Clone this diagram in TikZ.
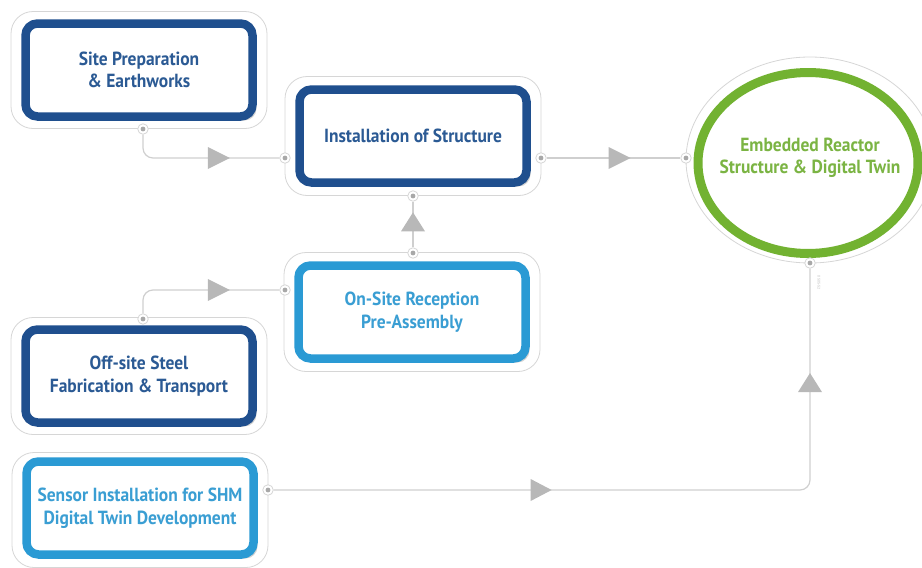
\documentclass[tikz,border=0pt]{standalone}
\usepackage{fontspec}
\newfontfamily\lbl{PT Sans}[FakeStretch=0.92]
\usetikzlibrary{arrows.meta,decorations.markings,shapes.geometric,shadows}
\definecolor{dblue}{HTML}{1F4F8E}
\definecolor{dbluetxt}{HTML}{2B5A94}
\definecolor{lblue}{HTML}{2A9AD4}
\definecolor{lbluetxt}{HTML}{3A9ED3}
\definecolor{grn}{HTML}{72B231}
\definecolor{grntxt}{HTML}{7BB443}
\definecolor{framec}{HTML}{D6D6D6}
\definecolor{wirec}{HTML}{CFCFCF}
\definecolor{tric}{HTML}{B8B8B8}
\definecolor{dotc}{HTML}{A8A8A8}
\tikzset{
  labelfont/.style={font=\lbl\bfseries\fontsize{19}{22.5}\selectfont},
  outerbox/.style={draw=framec, line width=0.8pt, rounded corners=22pt, fill=white,
    minimum width=256pt, minimum height=117pt, inner sep=0pt},
  innerbox/.style={line width=8.5pt, rounded corners=12pt, fill=white,
    minimum width=227pt, minimum height=93pt, align=center, inner sep=0pt, labelfont,
    drop shadow={shadow xshift=4pt, shadow yshift=-4pt, opacity=0.18, fill=black}},
  darkbox/.style={innerbox, draw=dblue, text=dbluetxt},
  lightbox/.style={innerbox, draw=lblue, text=lbluetxt},
  portdot/.style={circle, draw=framec, fill=white, line width=0.8pt, minimum size=10.5pt, inner sep=0pt,
    path picture={\fill[dotc] (path picture bounding box.center) circle (2.4pt);}},
  wire/.style={draw=wirec, line width=1.2pt, rounded corners=10pt},
  tipshape/.style={fill=tric, sharp corners},
  tipat/.style={postaction={decorate, decoration={markings,
    mark=at position #1 with {\fill[tipshape] (0pt,11pt) -- (22pt,0pt) -- (0pt,-11pt) -- cycle;}}}}
}
\begin{document}
\begin{tikzpicture}[x=1pt,y=-1pt]
\useasboundingbox (0,0) rectangle (922,568);
% outer frames
\node[outerbox] (siteO) at (139,70) {};
\node[outerbox, minimum height=119pt] (instO) at (413,136) {};
\node[outerbox, minimum height=119pt] (onsO) at (412,312) {};
\node[outerbox] (offO) at (139,376) {};
\node[outerbox, minimum height=115pt] (senO) at (140,510) {};
\node[ellipse, draw=framec, line width=0.8pt, fill=white, minimum width=248pt, minimum height=206pt, inner sep=0pt] (embO) at (810,160) {};
% inner boxes
\node[darkbox] (site) at (139,70) {Site Preparation\\\& Earthworks};
\node[darkbox] (inst) at (413,136) {Installation of Structure};
\node[lightbox] (ons) at (412,312) {On-Site Reception\\Pre-Assembly};
\node[darkbox] (off) at (139,376) {Off-site Steel\\Fabrication \& Transport};
\node[lightbox] (sen) at (140,508) {Sensor Installation for SHM\\Digital Twin Development};
\node[ellipse, draw=grn, line width=9pt, fill=white, minimum width=220pt, minimum height=181pt,
  inner sep=0pt,
  drop shadow={shadow xshift=3pt, shadow yshift=-3pt, opacity=0.15, fill=black}] (emb) at (808,163) {};
\node[labelfont, text=grntxt, align=center, inner sep=0pt] (embtext) at (810,158)
  {Embedded Reactor\\Structure \& Digital Twin};
% port dots
\node[portdot] (siteB) at (143,129) {};
\node[portdot] (instL) at (285,158) {};
\node[portdot] (instR) at (541,158) {};
\node[portdot] (instB) at (413,196) {};
\node[portdot] (onsT) at (413,253) {};
\node[portdot] (onsL) at (285,290) {};
\node[portdot] (offT) at (143,319) {};
\node[portdot] (senR) at (268,490) {};
\node[portdot] (embL) at (686,158) {};
\node[portdot] (embB) at (810,263) {};
% connectors
\draw[wire, tipat=84pt] (siteB) |- (instL);
\draw[wire, tipat=84pt] (offT) |- (onsL);
\draw[wire, postaction={decorate, decoration={markings,
  mark=at position 16pt with {\fill[tipshape] (0pt,12pt) -- (19pt,0pt) -- (0pt,-12pt) -- cycle;}}}]
  (onsT) -- (instB);
\draw[wire, tipat=62pt] (instR) -- (embL);
\draw[wire, postaction={decorate, decoration={markings,
  mark=at position 257pt with {\fill[tipshape] (0pt,11pt) -- (21pt,0pt) -- (0pt,-11pt) -- cycle;},
  mark=at position 630pt with {\fill[tipshape] (0pt,12pt) -- (19pt,0pt) -- (0pt,-12pt) -- cycle;}}}]
  (senR) -| (embB);
\node[rotate=-90, text=black!25, font=\sffamily\fontsize{4}{5}\selectfont, inner sep=0pt] (code) at (819,283) {0505-52};
\end{tikzpicture}
\end{document}
